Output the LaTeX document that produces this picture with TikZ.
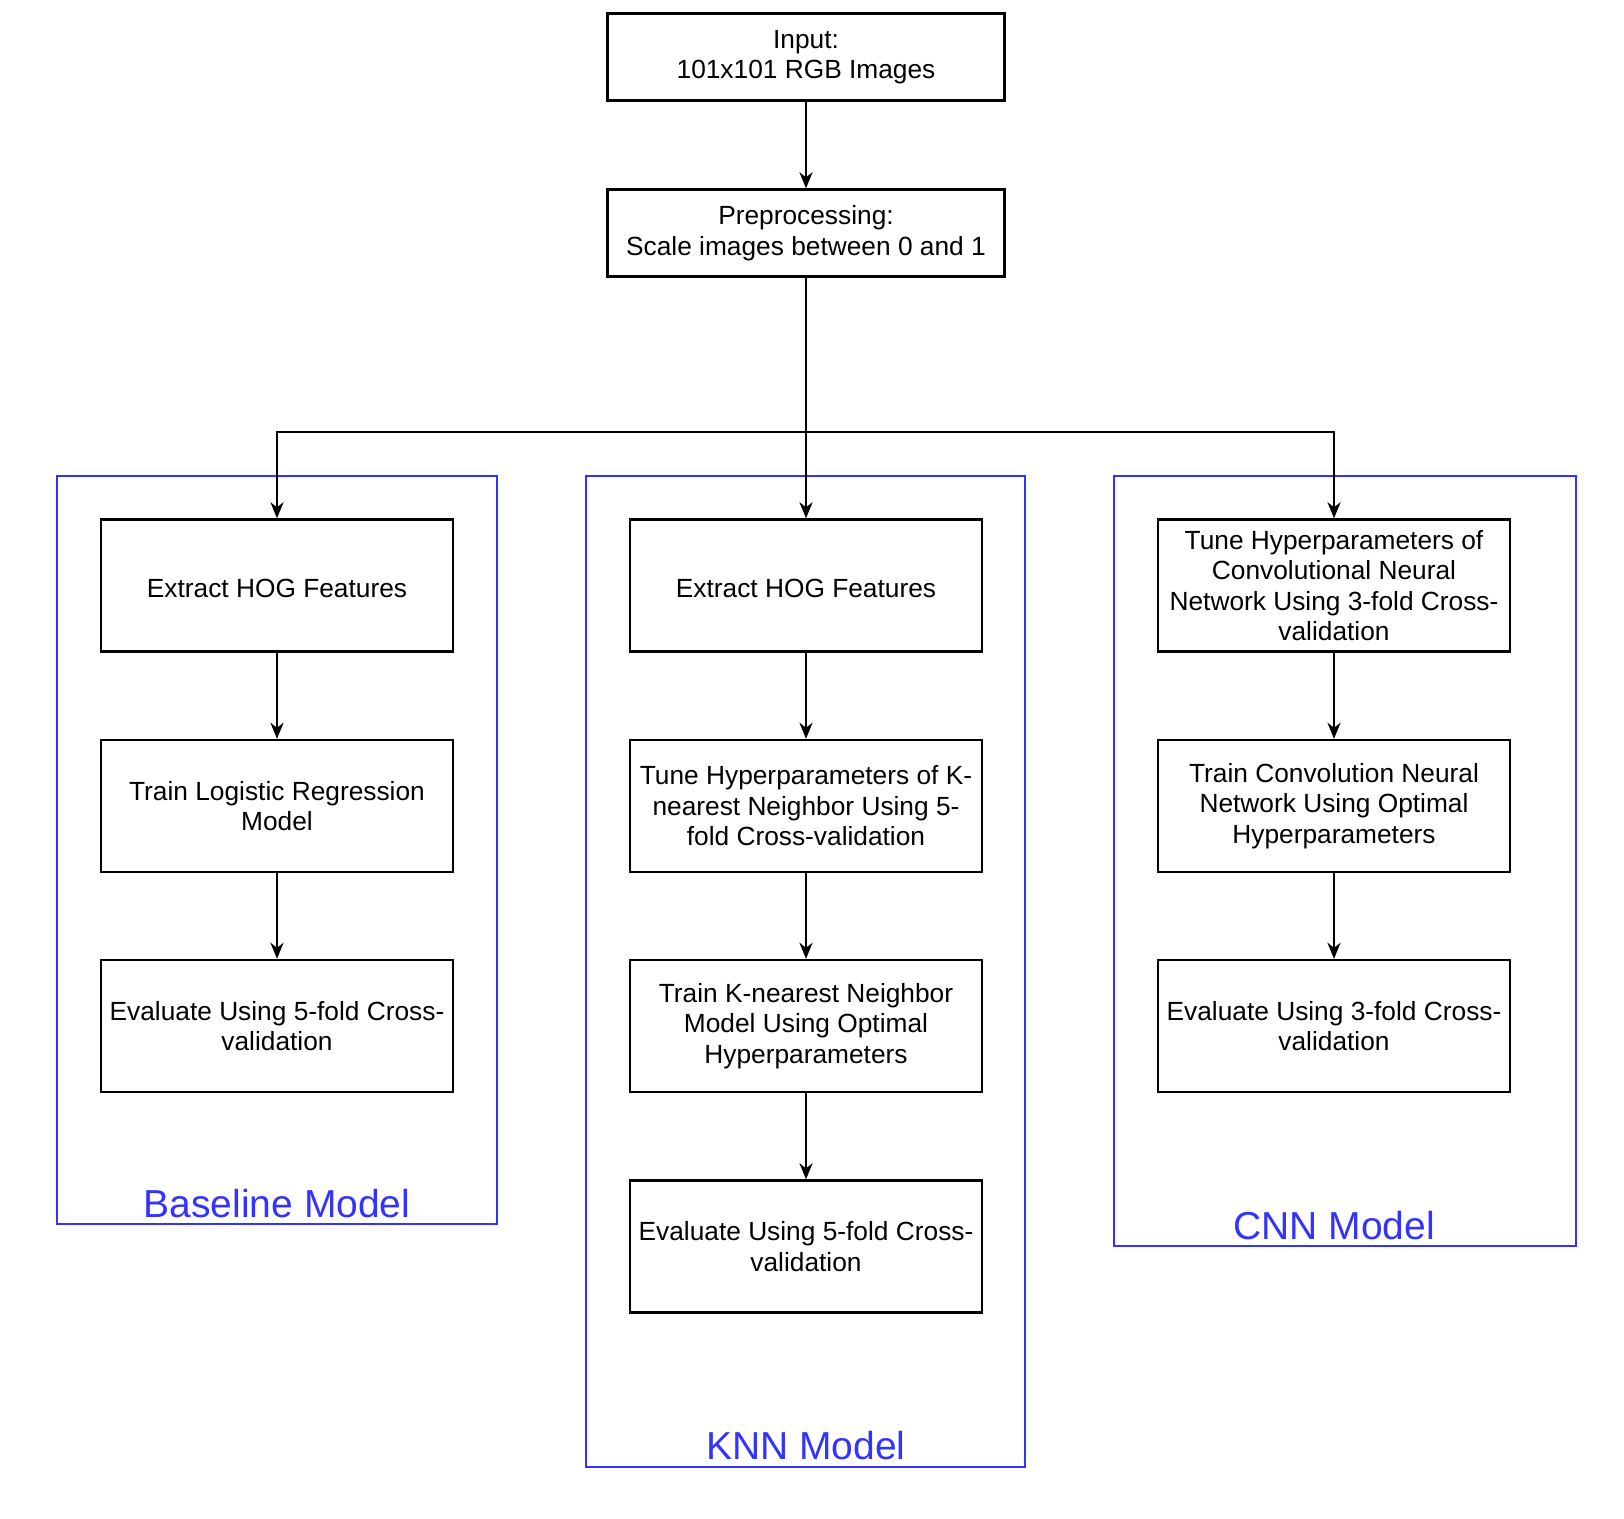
\documentclass[tikz,border=0pt]{standalone}
\usepackage{fontspec}
\setmainfont{Liberation Sans}
\usetikzlibrary{arrows.meta}
\definecolor{frameblue}{RGB}{51,51,255}
\begin{document}
\begin{tikzpicture}[x=1pt,y=-1pt,
  every node/.style={font=\fontsize{26.3}{30.5}\selectfont, text=black},
  topbox/.style={draw, line width=2.4pt, minimum width=397pt, minimum height=87pt, align=center, inner sep=0pt, execute at begin node={\rule{0pt}{25pt}}},
  stepbox/.style={draw, line width=2.4pt, minimum width=352pt, minimum height=132pt, align=center, inner sep=0pt, execute at begin node={\rule{0pt}{24pt}}},
  frame/.style={draw=frameblue, line width=2pt},
  framelabel/.style={font=\fontsize{39}{44}\selectfont, text=frameblue, anchor=base},
  arr/.style={line width=2.4pt, -{Stealth[length=16pt,width=13pt,inset=5pt]}}
]
\useasboundingbox (0,0) rectangle (1624,1518);

% frames
\draw[frame] (57,476) rectangle (497,1224);
\draw[frame] (586,476) rectangle (1025,1467);
\draw[frame] (1114,476) rectangle (1576,1246);
\node[framelabel] (lb) at (277,1217) {Baseline Model};
\node[framelabel] (lk) at (806,1459) {KNN Model};
\node[framelabel] (lc) at (1334,1239) {CNN Model};

% top
\node[topbox] (in) at (806,57) {Input:\\101x101 RGB Images};
\node[topbox] (pre) at (806,233) {Preprocessing:\\Scale images between 0 and 1};

% baseline column
\node[stepbox] (b1) at (277,585.5) {Extract HOG Features};
\node[stepbox] (b2) at (277,806) {Train Logistic Regression\\Model};
\node[stepbox] (b3) at (277,1026) {Evaluate Using 5-fold Cross-\\validation};

% knn column
\node[stepbox] (k1) at (806,585.5) {Extract HOG Features};
\node[stepbox] (k2) at (806,806) {Tune Hyperparameters of K-\\nearest Neighbor Using 5-\\fold Cross-validation};
\node[stepbox] (k3) at (806,1026) {Train K-nearest Neighbor\\Model Using Optimal\\Hyperparameters};
\node[stepbox] (k4) at (806,1246.5) {Evaluate Using 5-fold Cross-\\validation};

% cnn column
\node[stepbox] (c1) at (1334,585.5) {Tune Hyperparameters of\\Convolutional Neural\\Network Using 3-fold Cross-\\validation};
\node[stepbox] (c2) at (1334,806) {Train Convolution Neural\\Network Using Optimal\\Hyperparameters};
\node[stepbox] (c3) at (1334,1026) {Evaluate Using 3-fold Cross-\\validation};

\coordinate (split) at (806,432);

\draw[arr] (in) -- (pre);
\draw[line width=2.4pt] (pre.south) -- (split);
\draw[arr] (split) -- (k1);
\draw[arr] (split) -| (b1);
\draw[arr] (split) -| (c1);

\draw[arr] (b1) -- (b2);
\draw[arr] (b2) -- (b3);
\draw[arr] (k1) -- (k2);
\draw[arr] (k2) -- (k3);
\draw[arr] (k3) -- (k4);
\draw[arr] (c1) -- (c2);
\draw[arr] (c2) -- (c3);
\end{tikzpicture}
\end{document}
